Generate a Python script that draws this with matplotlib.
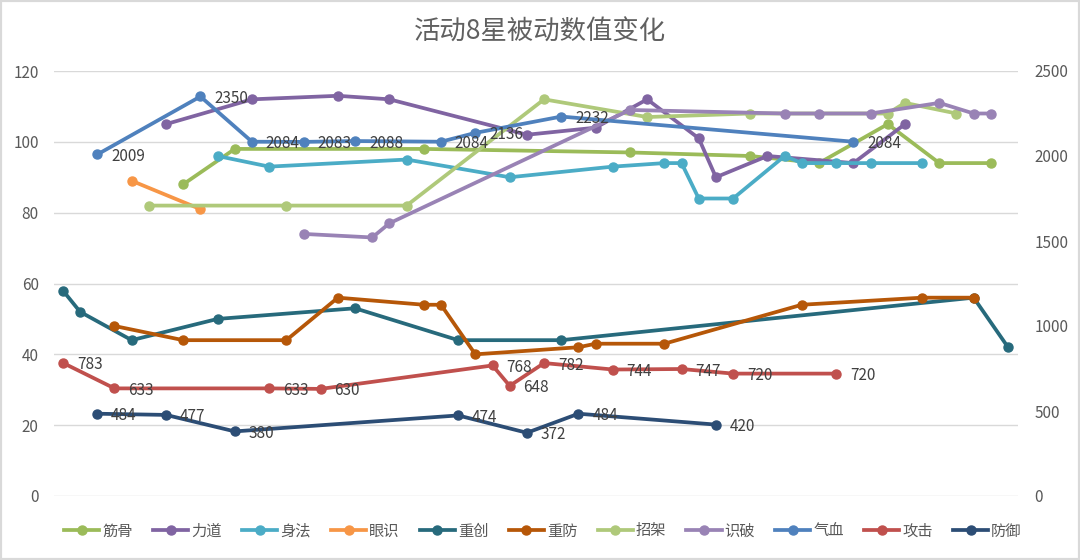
import matplotlib
matplotlib.use('Agg')
import matplotlib.pyplot as plt
from matplotlib.lines import Line2D
from matplotlib.patches import Rectangle

plt.rcParams['font.family'] = ['Noto Sans CJK SC', 'DejaVu Sans']

title = "活动8星被动数值变化"

# ---- left-axis series (x = category slot index) ----
jingu_x = [7, 10, 21, 33, 40, 44, 48, 51, 54]
jingu_y = [88, 98, 98, 97, 96, 94, 105, 94, 94]
lidao_x = [6, 11, 16, 19, 27, 31, 34, 37, 38, 41, 46, 49]
lidao_y = [105, 112, 113, 112, 102, 104, 112, 101, 90, 96, 94, 105]
shenfa_x = [9, 12, 20, 26, 32, 35, 36, 37, 39, 42, 43, 45, 47, 50]
shenfa_y = [96, 93, 95, 90, 93, 94, 94, 84, 84, 96, 94, 94, 94, 94]
yanshi_x = [4, 8]
yanshi_y = [89, 81]
zhongchuang_x = [0, 1, 4, 9, 17, 23, 29, 53, 55]
zhongchuang_y = [58, 52, 44, 50, 53, 44, 44, 56, 42]
zhongfang_x = [3, 7, 13, 16, 21, 22, 24, 30, 31, 35, 43, 50, 53]
zhongfang_y = [48, 44, 44, 56, 54, 54, 40, 42, 43, 43, 54, 56, 56]
zhaojia_x = [5, 13, 20, 28, 34, 40, 48, 49, 52]
zhaojia_y = [82, 82, 82, 112, 107, 108, 108, 111, 108]
shipo_x = [14, 18, 19, 33, 42, 44, 47, 51, 53, 54]
shipo_y = [74, 73, 77, 109, 108, 108, 108, 111, 108, 108]

# ---- right-axis series ----
qixue_x = [2, 8, 11, 14, 17, 22, 24, 29, 46]
qixue_y = [2009, 2350, 2084, 2083, 2088, 2084, 2136, 2232, 2084]
gongji_x = [0, 3, 12, 15, 25, 26, 28, 32, 36, 39, 45]
gongji_y = [783, 633, 633, 630, 768, 648, 782, 744, 747, 720, 720]
fangyu_x = [2, 6, 10, 23, 27, 30, 38]
fangyu_y = [484, 477, 380, 474, 372, 484, 420]

left_series = [
    ("筋骨", jingu_x, jingu_y, "#9BBB59"),
    ("力道", lidao_x, lidao_y, "#8064A2"),
    ("身法", shenfa_x, shenfa_y, "#4BACC6"),
    ("眼识", yanshi_x, yanshi_y, "#F79646"),
    ("重创", zhongchuang_x, zhongchuang_y, "#276A7C"),
    ("重防", zhongfang_x, zhongfang_y, "#B65708"),
    ("招架", zhaojia_x, zhaojia_y, "#AFC97A"),
    ("识破", shipo_x, shipo_y, "#9983B5"),
]
right_series = [
    ("气血", qixue_x, qixue_y, "#4F81BD"),
    ("攻击", gongji_x, gongji_y, "#C0504D"),
    ("防御", fangyu_x, fangyu_y, "#2C4D75"),
]

W, H = 1080, 560
fig = plt.figure(figsize=(W / 100, H / 100), dpi=100)
fig.patch.set_facecolor('white')

ax = fig.add_axes([54 / W, 64 / H, 964 / W, 425 / H])
ax2 = ax.twinx()

LW = 2.7
MS = 6.5
for name, xs, ys, c in left_series:
    ax.plot(xs, ys, color=c, lw=LW, marker='o', ms=MS, solid_capstyle='round',
            solid_joinstyle='round', zorder=3)
for name, xs, ys, c in right_series:
    ax2.plot(xs, ys, color=c, lw=LW, marker='o', ms=MS, solid_capstyle='round',
             solid_joinstyle='round', zorder=3)
    for x, v in zip(xs, ys):
        ax2.annotate(str(v), (x, v), xytext=(10, -1.5), textcoords='offset points',
                     ha='left', va='center', fontsize=11, color='#404040')

ax.set_xlim(-0.52, 55.58)
ax.set_ylim(0, 120)
ax.set_yticks(range(0, 121, 20))
ax2.set_ylim(0, 2500)
ax2.set_yticks(range(0, 2501, 500))
ax.set_xticks([])
ax.yaxis.grid(True, color='#D9D9D9', lw=1)
ax.set_axisbelow(True)
for a in (ax, ax2):
    for s in a.spines.values():
        s.set_visible(False)
ax.tick_params(axis='y', length=0, pad=11, labelsize=11, labelcolor='#595959')
ax2.tick_params(axis='y', length=0, pad=12, labelsize=11, labelcolor='#595959')

fig.text(0.5, (H - 32) / H, title, ha='center', va='center', fontsize=19,
         color='#606060', fontweight='light')

handles = []
labels = []
for name, xs, ys, c in left_series + right_series:
    handles.append(Line2D([0], [0], color=c, lw=LW, marker='o', ms=MS))
    labels.append(name)
fig.legend(handles, labels, loc='center', bbox_to_anchor=(543 / W, 29 / H),
           ncol=11, frameon=False, handlelength=2.3, handletextpad=0.2,
           columnspacing=1.32, fontsize=11, labelcolor='#595959')

fig.add_artist(Rectangle((0, 0), 1, 1, transform=fig.transFigure, fill=False,
                         ec='#D9D9D9', lw=3))

fig.savefig('out.png', dpi=100, facecolor='white')
